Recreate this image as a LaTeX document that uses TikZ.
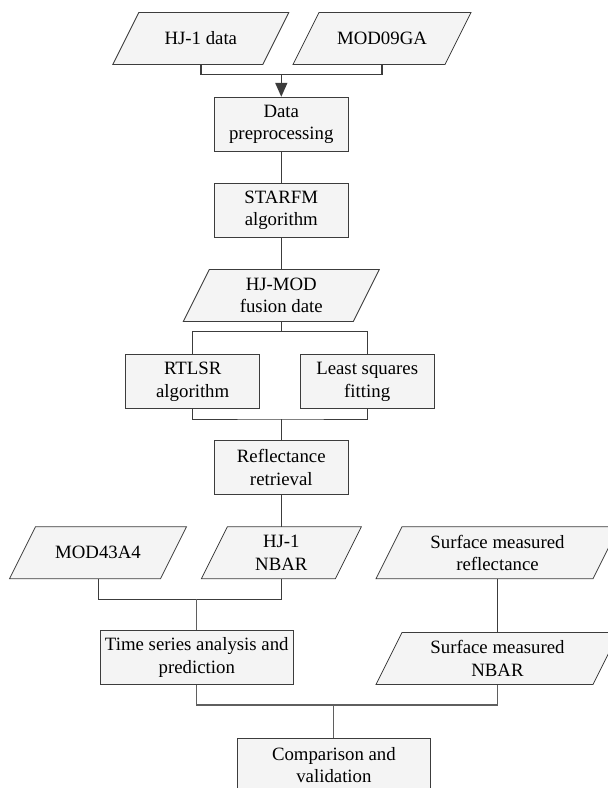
\documentclass[tikz,border=0pt]{standalone}
\usepackage{fontspec}
\setmainfont{Liberation Serif}
\usepackage{tikz}
\usetikzlibrary{arrows.meta}
\definecolor{boxgray}{RGB}{244, 244, 244}
\definecolor{linegray}{RGB}{60, 60, 60}
\definecolor{midgray}{RGB}{95, 95, 95}

% slanted data box: name, x, y, full width, text
\newcommand{\datanode}[5]{%
    \filldraw[datashape] ({#2-#4/2+26},{#3-26}) -- ({#2+#4/2},{#3-26})
        -- ({#2+#4/2-26},{#3+26}) -- ({#2-#4/2},{#3+26}) -- cycle;
    \node[dataset, minimum width=#4pt] (#1) at (#2,#3) {#5};
}

\begin{document}
\begin{tikzpicture}[x=1pt, y=-1pt,
            process/.style = {
                draw=linegray,
                fill=boxgray,
                align=center,
                inner sep=0pt,
                line width=0.8pt,
                minimum height=54pt,
                minimum width=134pt,
                font=\fontsize{18.8}{22.4}\selectfont,
                },
            dataset/.style = {
                align=center,
                inner sep=0pt,
                minimum height=52pt,
                font=\fontsize{18.8}{22.4}\selectfont,
                },
            datashape/.style = {draw=linegray, fill=boxgray, line width=0.8pt},
            link/.style = {draw=linegray, line width=0.8pt},
            sublink/.style = {draw=midgray, line width=1.1pt},
            feed/.style = {draw=linegray, line width=1.5pt}]
            \useasboundingbox (0,0) rectangle (608,788);
            \clip (0,0) rectangle (608,788);

            % inputs and the fusion chain
            \datanode{hj}{200.8}{38.5}{176}{HJ-1 data}
            \datanode{mod09}{382}{38.5}{178}{MOD09GA}
            \node[process] (pre) at (281.3,124.2) {Data\\preprocessing};
            \node[process] (starfm) at (281.3,210) {STARFM\\algorithm};
            \datanode{fusion}{281.3}{295.5}{196}{HJ-MOD\\fusion date}
            \node[process] (rtlsr) at (192.7,381.7) {RTLSR\\algorithm};
            \node[process] (lsq) at (367.2,381.7) {Least squares\\fitting};
            \node[process] (refl) at (281.3,467.5) {Reflectance\\retrieval};

            % products and validation
            \datanode{mod43}{98}{552.8}{177}{MOD43A4}
            \datanode{nbar}{281.3}{552.8}{160}{HJ-1\\NBAR}
            \datanode{surf}{497.5}{552.8}{243}{Surface measured\\reflectance}
            \node[process, minimum width=193.5pt] (tsa) at (196.8,657.5) {Time series analysis and\\prediction};
            \datanode{surfnbar}{497.5}{658.5}{243}{Surface measured\\NBAR}
            \node[process, minimum width=193pt] (cmp) at (333.9,765) {Comparison and\\validation};

            \coordinate (top) at (281.3,74.7);
            \coordinate (fork) at (281.3,331.7);
            \coordinate (join1) at (281.3,419);
            \coordinate (join2) at (196.8,599.3);
            \coordinate (join3) at (333.9,705);

            \draw[feed] (hj) |- (top) -| (mod09);
            \draw[feed, -{Triangle[length=14pt, width=12pt]}] (top) -- (pre);
            \draw[link] (pre) -- (starfm);
            \draw[link] (starfm) -- (fusion);
            \draw[link] (fusion) -- (fork);
            \draw[link] (rtlsr) |- (fork) -| (lsq);
            \draw[link] (rtlsr) |- (join1) -| (lsq);
            \draw[link] (join1) -- (refl);
            \draw[link] (refl) -- (nbar);
            \draw[link] (mod43) |- (join2) -| (nbar);
            \draw[sublink] (join2) -- (tsa);
            \draw[link] (surf) -- (surfnbar);
            \draw[sublink] (tsa) |- (join3) -| (surfnbar);
            \draw[sublink] (join3) -- (cmp);
        \end{tikzpicture}
\end{document}
